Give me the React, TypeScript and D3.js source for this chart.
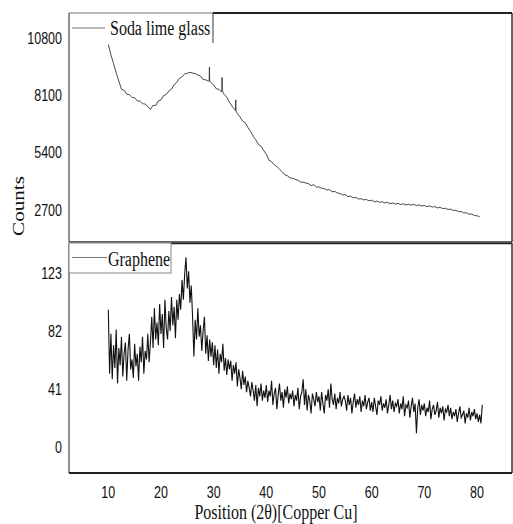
import React from "react";
import * as d3 from "d3";

// ---- data ----
const xTicks = [10, 20, 30, 40, 50, 60, 70, 80];
const sodaTicks = [2700, 5400, 8100, 10800];
const grapheneTicks = [0, 41, 82, 123];

const sodaStart = 10;
const sodaStep = 0.5;
const sodaCounts = [
  10480, 9990, 9580, 9140, 8760, 8380, 8330, 8150, 8120, 7990,
  7980, 7830, 7820, 7700, 7680, 7560, 7430, 7620, 7610, 7830,
  7880, 8080, 8130, 8290, 8380, 8590, 8700, 8890, 8960, 9100,
  9130, 9170, 9140, 9110, 9040, 9000, 8830, 8820, 8760, 8680,
  8580, 8400, 8380, 8250, 8130, 8000, 7760, 7580, 7420, 7230,
  7080, 6880, 6800, 6580, 6400, 6170, 6000, 5780, 5700, 5500,
  5320, 5040, 4970, 4830, 4740, 4620, 4500, 4360, 4310, 4210,
  4190, 4140, 4100, 4010, 4010, 3970, 3940, 3850, 3890, 3780,
  3780, 3720, 3710, 3640, 3660, 3560, 3570, 3500, 3480, 3410,
  3420, 3330, 3350, 3270, 3300, 3220, 3230, 3180, 3190, 3130,
  3160, 3090, 3120, 3060, 3090, 3030, 3060, 3000, 3030, 2980,
  3010, 2960, 2990, 2940, 2970, 2930, 2960, 2910, 2940, 2890,
  2910, 2860, 2890, 2840, 2860, 2800, 2820, 2770, 2780, 2730,
  2740, 2680, 2690, 2620, 2630, 2560, 2570, 2500, 2510, 2440,
  2430, 2380,
];
// narrow sharp peaks on the soda lime glass pattern: [2θ, counts]
const sodaPeaks: [number, number][] = [
  [29.15, 8770], [29.2, 9420], [29.25, 8750],
  [31.55, 8330], [31.6, 8930], [31.65, 8300],
  [34.15, 7380], [34.2, 7880], [34.25, 7350],
];

const grapheneStart = 10;
const grapheneStep = 0.25;
const grapheneCounts = [
  97, 52, 80, 48, 72, 56, 83, 45, 70, 58, 78, 50, 66, 74, 47, 69, 80, 55, 62, 49,
  73, 57, 66, 47, 71, 60, 78, 52, 68, 62, 80, 60, 74, 92, 70, 98, 76, 88, 72, 101,
  80, 94, 70, 104, 84, 76, 96, 82, 106, 86, 99, 77, 104, 90, 108, 97, 118, 104, 122, 134,
  112, 124, 102, 114, 92, 64, 90, 76, 98, 78, 86, 68, 82, 92, 66, 79, 61, 76, 64, 74,
  58, 72, 56, 69, 52, 66, 60, 73, 54, 63, 51, 62, 55, 61, 47, 58, 52, 60, 43, 55,
  49, 41, 54, 44, 50, 39, 47, 42, 36, 46, 40, 33, 44, 29, 42, 36, 45, 33, 40, 35,
  44, 32, 40, 36, 47, 30, 38, 42, 27, 37, 45, 33, 39, 28, 41, 35, 43, 31, 38, 34,
  40, 29, 37, 33, 42, 27, 36, 39, 48, 30, 41, 26, 37, 33, 24, 38, 34, 29, 39, 32,
  36, 26, 39, 31, 24, 37, 33, 41, 28, 45, 34, 30, 38, 27, 35, 31, 39, 29, 34, 36,
  33, 26, 37, 30, 35, 24, 32, 38, 28, 34, 30, 36, 25, 33, 29, 37, 27, 32, 35, 26,
  32, 25, 35, 29, 23, 33, 30, 36, 26, 31, 28, 34, 24, 30, 37, 27, 33, 25, 31, 29,
  34, 24, 31, 27, 36, 22, 30, 28, 33, 21, 29, 35, 25, 31, 10, 28, 34, 23, 30, 26,
  31, 22, 28, 25, 33, 20, 27, 30, 23, 26, 32, 21, 28, 24, 29, 19, 27, 25, 30, 22,
  28, 20, 25, 22, 27, 18, 24, 29, 21, 23, 26, 17, 24, 21, 28, 19, 25, 22, 27, 20,
  24, 18, 23, 17, 30,
];

// ---- layout ----
const W = 513;
const H = 524;
const left = 69;
const right = 512;
const top1 = 13;
const bot1 = 242;
const top2 = 243;
const bot2 = 473;
const SY = 1.28;

export default function App() {
  const x = d3.scaleLinear().domain([10, 80]).range([108.3, 477]);
  const y1 = d3.scaleLinear().domain([2700, 10800]).range([210, 37.7]);
  const y2 = d3.scaleLinear().domain([0, 123]).range([447.5, 272.8]);

  const sodaPts: [number, number][] = sodaCounts
    .map((c, i) => [sodaStart + i * sodaStep, c] as [number, number])
    .concat(sodaPeaks)
    .sort((a, b) => a[0] - b[0]);
  const grPts: [number, number][] = grapheneCounts.map(
    (c, i) => [grapheneStart + i * grapheneStep, c] as [number, number]
  );

  const sodaLine = d3
    .line<[number, number]>()
    .x((d) => x(d[0]))
    .y((d) => y1(d[1]));
  const grLine = d3
    .line<[number, number]>()
    .x((d) => x(d[0]))
    .y((d) => y2(d[1]));

  const sans = "'Liberation Sans', Arial, sans-serif";
  const serif = "'Liberation Serif', 'Times New Roman', serif";

  const yLabel = (v: number, y: number, key: string) => (
    <text
      key={key}
      transform={`translate(62,${y + 5.8}) scale(1,${SY})`}
      textAnchor="end"
      fontFamily={sans}
      fontSize={12.5}
      fill="#111"
    >
      {v}
    </text>
  );

  return (
    <div style={{ position: "absolute", left: 0, top: 0 }}>
      <svg width={W} height={H} style={{ display: "block", background: "#fff" }}>
        <rect x={0} y={0} width={W} height={H} fill="#fff" />
        {/* data */}
        <path d={sodaLine(sodaPts) || ""} fill="none" stroke="#333" strokeWidth={0.9} />
        <path d={grLine(grPts) || ""} fill="none" stroke="#111" strokeWidth={1.1} />

        {/* top panel frame */}
        <line x1={left} x2={213} y1={top1} y2={top1} stroke="#777" strokeWidth={1} />
        <line x1={213} x2={right} y1={top1} y2={top1} stroke="#222" strokeWidth={2} />
        <line x1={left} x2={left} y1={top1} y2={bot1} stroke="#222" strokeWidth={1} />
        <line x1={right} x2={right} y1={top1} y2={bot1} stroke="#333" strokeWidth={1.5} />
        <line x1={left} x2={right} y1={bot1} y2={bot1} stroke="#333" strokeWidth={1.5} />
        {/* top legend */}
        <line x1={213} x2={213} y1={top1} y2={43} stroke="#333" strokeWidth={1} />
        <line x1={72} x2={105} y1={28} y2={28} stroke="#777" strokeWidth={1} />
        <text transform={`translate(110,35) scale(1,${SY})`} fontFamily={serif} fontSize={16} fill="#111">
          Soda lime glass
        </text>

        {/* bottom panel frame */}
        <line x1={171} x2={right} y1={top2 + 0.5} y2={top2 + 0.5} stroke="#222" strokeWidth={1.5} />
        <line x1={left} x2={left} y1={top2} y2={bot2} stroke="#222" strokeWidth={1} />
        <line x1={right} x2={right} y1={top2} y2={bot2} stroke="#333" strokeWidth={1.5} />
        <line x1={left} x2={right} y1={bot2} y2={bot2} stroke="#222" strokeWidth={2} />
        {/* bottom legend */}
        <rect x={left} y={top2} width={171 - left} height={30} fill="#fff" stroke="#888" strokeWidth={1} />
        <line x1={72} x2={107} y1={257.5} y2={257.5} stroke="#777" strokeWidth={1} />
        <text transform={`translate(108,265.5) scale(1,${SY})`} fontFamily={serif} fontSize={16} fill="#111">
          Graphene
        </text>

        {/* y tick labels */}
        {sodaTicks.map((v) => yLabel(v, y1(v), "s" + v))}
        {grapheneTicks.map((v) => yLabel(v, y2(v), "g" + v))}

        {/* x tick labels */}
        {xTicks.map((v) => (
          <text
            key={v}
            transform={`translate(${x(v)},498) scale(1,${SY})`}
            textAnchor="middle"
            fontFamily={sans}
            fontSize={12.5}
            fill="#111"
          >
            {v}
          </text>
        ))}

        {/* axis titles */}
        <text
          transform={`translate(276,519) scale(1,${SY})`}
          textAnchor="middle"
          fontFamily={serif}
          fontSize={16}
          fill="#111"
        >
          Position (2θ)[Copper Cu]
        </text>
        <text
          transform={`translate(23.5,206) scale(1,${SY}) rotate(-90)`}
          textAnchor="middle"
          fontFamily={serif}
          fontSize={16.5}
          fill="#111"
        >
          Counts
        </text>
      </svg>
    </div>
  );
}
